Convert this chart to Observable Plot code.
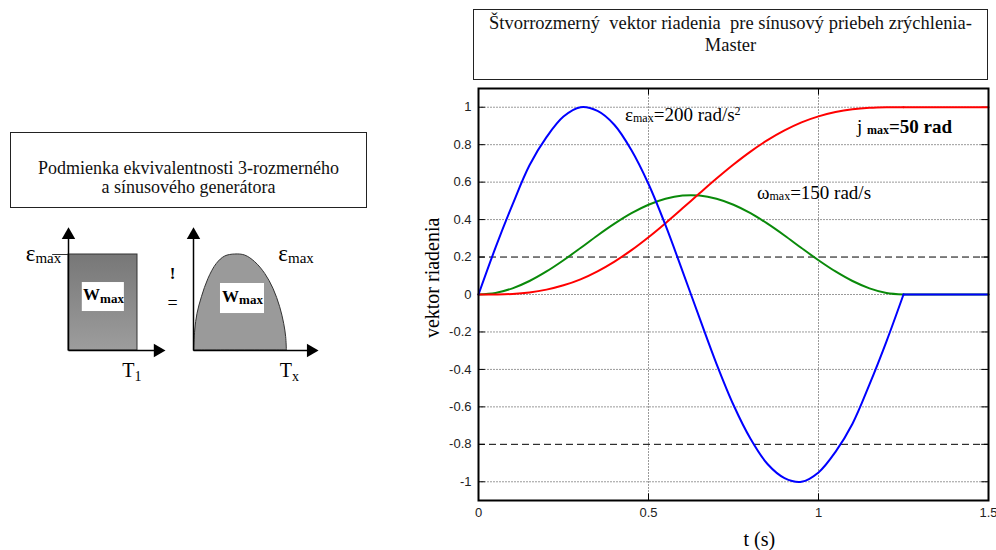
<!DOCTYPE html>
<html><head><meta charset="utf-8">
<script src="https://cdn.jsdelivr.net/npm/d3@7"></script>
<script src="https://cdn.jsdelivr.net/npm/@observablehq/plot@0.6"></script>
<style>
body{margin:0;background:#fff;}
#wrap{position:relative;width:996px;height:550px;overflow:hidden;background:#fff;}
.box{position:absolute;border:1px solid #222;box-sizing:border-box;font-family:"Liberation Serif","Times New Roman",serif;color:#111;text-align:center;background:#fff;white-space:nowrap;}
.abs{position:absolute;}
</style></head><body><div id="wrap">
<div class="box" style="left:10px;top:132px;width:357px;height:76px;font-size:18px;line-height:19px;padding-top:26px;">Podmienka ekvivalentnosti 3-rozmerného<br>a sínusového generátora</div>
<div class="box" style="left:473px;top:9px;width:515px;height:71px;font-size:18.5px;line-height:21.5px;padding-top:3px;">Štvorrozmerný&nbsp; vektor riadenia&nbsp; pre sínusový priebeh zrýchlenia-<br>Master</div>
<div class="abs" id="chart" style="left:420px;top:85px;"></div>
<div class="abs" id="diagL" style="left:0px;top:215px;"></div>
<div class="abs" id="diagR" style="left:170px;top:215px;"></div>
</div>
<script>
// ---- main chart data ----
const tValues = [0,0.05,0.1,0.15,0.2,0.25,0.3,0.35,0.4,0.45,0.5,0.55,0.6,0.65,0.7,0.75,0.8,0.85,0.9,0.95,1.0,1.05,1.1,1.15,1.2,1.25,1.3,1.35,1.4,1.45,1.5];
const accel = [0,0.25,0.48,0.69,0.84,0.95,1.0,0.98,0.905,0.77,0.59,0.37,0.125,-0.125,-0.37,-0.59,-0.77,-0.905,-0.98,-1.0,-0.95,-0.84,-0.69,-0.48,-0.25,0,0,0,0,0,0];
const velocity = [0,0.008,0.033,0.072,0.123,0.183,0.248,0.315,0.378,0.434,0.479,0.511,0.528,0.528,0.511,0.479,0.434,0.378,0.315,0.248,0.183,0.123,0.072,0.033,0.008,0,0,0,0,0,0];
const position = [0,0.0004,0.003,0.011,0.026,0.049,0.081,0.124,0.176,0.237,0.306,0.381,0.46,0.54,0.619,0.694,0.763,0.824,0.876,0.919,0.951,0.974,0.989,0.997,1.0,1.0,1,1,1,1,1];
const moveEnd = 25; // index of t = 1.25 s, where the motion ends
const xTicks = [0,0.5,1,1.5];
const yTicks = [-1,-0.8,-0.6,-0.4,-0.2,0,0.2,0.4,0.6,0.8,1];
const gridY = [-1,-0.6,-0.4,-0.2,0,0.4,0.6,0.8,1];
const dashedY = [-0.8,0.2];
const gridX = [0.5,1];
const noteKeys = ["#eps", "#omega", "#jerk", "#ylab", "#xlab"];
const noteT = [0.431, 0.819, 1.113, -0.129, 0.826];
const noteV = [0.948, 0.532, 0.884, 0.089, -1.32];

// ---- diagram data (schematic units: T1 = 1, eps_max = 1) ----
const archX = [0.01,0.025,0.058,0.122,0.217,0.338,0.459,0.604,0.749,0.894,1.039,1.159,1.256,1.314,1.343,1.353];
const archY = [0,0.208,0.382,0.555,0.746,0.902,0.979,1.0,0.989,0.92,0.798,0.642,0.451,0.278,0.139,0];

const serif = "Liberation Serif";
const sans = "Liberation Sans, Arial, Helvetica, sans-serif";

// parts: [text, shift (em, + = down), size (px), bold]
function rich(svg, key, parts) {
  svg.querySelectorAll("text").forEach(el => {
    if (el.textContent !== key) return;
    el.textContent = "";
    el.setAttribute("font-family", serif);
    let cur = 0;
    for (const [s, shift, size, bold] of parts) {
      const off = (shift || 0) * size;
      const ts = document.createElementNS("http://www.w3.org/2000/svg", "tspan");
      ts.textContent = s;
      if (off - cur !== 0) ts.setAttribute("dy", off - cur);
      cur = off;
      ts.setAttribute("font-size", size);
      ts.setAttribute("font-family", serif);
      if (bold) ts.setAttribute("font-weight", "bold");
      el.appendChild(ts);
    }
  });
}

function curveMarks(values, color) {
  const tA = tValues.slice(0, moveEnd + 1), vA = values.slice(0, moveEnd + 1);
  const tB = tValues.slice(moveEnd), vB = values.slice(moveEnd);
  return [
    Plot.line(tA, {x: tA, y: vA, stroke: color, strokeWidth: 2, curve: "catmull-rom"}),
    Plot.line(tB, {x: tB, y: vB, stroke: color, strokeWidth: 2})
  ];
}

const chart = Plot.plot({
  width: 576, height: 465,
  marginLeft: 58, marginRight: 8, marginTop: 3, marginBottom: 50,
  x: {domain: [0, 1.5], ticks: xTicks, tickSize: 0, tickPadding: 7, tickFormat: d => String(d), label: null},
  y: {domain: [-1.1, 1.1], ticks: yTicks, tickSize: 0, tickPadding: 7, tickFormat: d => String(d), label: null},
  style: {fontFamily: sans, fontSize: "13px", color: "#222", background: "transparent", overflow: "visible"},
  marks: [
    Plot.ruleY(gridY, {stroke: "#9a9a9a", strokeWidth: 1, strokeDasharray: "2,1"}),
    Plot.ruleX(gridX, {stroke: "#9a9a9a", strokeWidth: 1, strokeDasharray: "2,1"}),
    Plot.ruleY(dashedY, {stroke: "#000", strokeWidth: 1, strokeDasharray: "7,4"}),
    Plot.ruleX(gridX, {y1: -1.1, y2: -1.065, stroke: "#000"}),
    Plot.ruleX(gridX, {y1: 1.1, y2: 1.065, stroke: "#000"}),
    Plot.ruleY(yTicks, {x1: 0, x2: 0.02, stroke: "#000"}),
    Plot.ruleY(yTicks, {x1: 1.48, x2: 1.5, stroke: "#000"}),
    ...curveMarks(velocity, "#0a8a0a"),
    ...curveMarks(position, "#ff0000"),
    ...curveMarks(accel, "#0000ff"),
    Plot.frame({stroke: "#000", strokeWidth: 2}),
    Plot.text(noteKeys.slice(0, 3), {x: noteT.slice(0, 3), y: noteV.slice(0, 3), text: d => d, textAnchor: "start", fill: "#000"}),
    Plot.text(noteKeys.slice(3, 4), {x: noteT.slice(3, 4), y: noteV.slice(3, 4), text: d => d, rotate: -90, fill: "#000"}),
    Plot.text(noteKeys.slice(4), {x: noteT.slice(4), y: noteV.slice(4), text: d => d, fill: "#000"})
  ]
});
rich(chart, "#eps", [["ε", 0, 19], ["max", 0.1, 12], ["=200 rad/s", 0, 19], ["2", -0.5, 12]]);
rich(chart, "#omega", [["ω", 0, 19], ["max", 0.1, 12], ["=150 rad/s", 0, 19]]);
rich(chart, "#jerk", [["j ", 0, 19], ["max", 0.1, 12, true], ["=50 rad", 0, 19, true]]);
rich(chart, "#ylab", [["vektor riadenia", 0, 20]]);
rich(chart, "#xlab", [["t (s)", 0, 20]]);
document.getElementById("chart").appendChild(chart);

// ---- left schematic: rectangular pulse ----
const diagL = Plot.plot({
  width: 170, height: 175, margin: 0,
  x: {domain: [0, 1], range: [68, 137], axis: null},
  y: {domain: [0, 1], range: [135, 39], axis: null},
  style: {fontFamily: serif, background: "transparent", overflow: "visible"},
  marks: [
    Plot.rect([0], {x1: 0, x2: 1, y1: 0, y2: 1, fill: "url(#gradL)", stroke: "#333", strokeWidth: 1}),
    Plot.ruleY([1], {x1: -0.23, x2: 0, stroke: "#333"}),
    Plot.link([0, 1], {x1: [0, 0], y1: [0, 0], x2: [0, 1.3], y2: [1.21, 0], stroke: "#000", strokeWidth: 1.5}),
    Plot.dot([0, 1], {x: [0, 1.293], y: [1.203, 0], rotate: [0, 90], symbol: "triangle", r: 5, fill: "#000", stroke: "none"}),
    Plot.rect([0], {x1: 0.2, x2: 0.81, y1: 0.406, y2: 0.708, fill: "#fff"}),
    Plot.text(["#W"], {x: [0.507], y: [0.557], text: d => d, fill: "#000"}),
    Plot.text(["#E"], {x: [-0.62], y: [0.97], text: d => d, textAnchor: "start", fill: "#000"}),
    Plot.text(["#T"], {x: [0.78], y: [-0.24], text: d => d, textAnchor: "start", fill: "#000"})
  ]
});
d3.select(diagL).insert("defs", ":first-child").html('<linearGradient id="gradL" x1="0" y1="0" x2="0" y2="1"><stop offset="0" stop-color="#777"/><stop offset="1" stop-color="#9d9d9d"/></linearGradient>');
rich(diagL, "#W", [["W", 0, 17, true], ["max", 0.2, 13, true]]);
rich(diagL, "#E", [["ε", 0, 23], ["max", 0.15, 15]]);
rich(diagL, "#T", [["T", 0, 20], ["1", 0.3, 14]]);
document.getElementById("diagL").appendChild(diagL);

// ---- right schematic: sinusoidal pulse ----
const diagR = Plot.plot({
  width: 170, height: 175, margin: 0,
  x: {domain: [0, 1], range: [23, 92], axis: null},
  y: {domain: [0, 1], range: [135, 39], axis: null},
  style: {fontFamily: serif, background: "transparent", overflow: "visible"},
  marks: [
    Plot.areaY(archX, {x: archX, y1: 0, y2: archY, fill: "#9a9a9a", stroke: "#333", strokeWidth: 1, curve: "catmull-rom"}),
    Plot.link([0, 1], {x1: [0, 0], y1: [0, 0], x2: [0, 1.7], y2: [1.21, 0], stroke: "#000", strokeWidth: 1.5}),
    Plot.dot([0, 1], {x: [0, 1.70], y: [1.203, 0], rotate: [0, 90], symbol: "triangle", r: 5, fill: "#000", stroke: "none"}),
    Plot.rect([0], {x1: 0.391, x2: 1.029, y1: 0.385, y2: 0.698, fill: "#fff"}),
    Plot.text(["#W"], {x: [0.71], y: [0.54], text: d => d, fill: "#000"}),
    Plot.text(["#E"], {x: [1.23], y: [0.97], text: d => d, textAnchor: "start", fill: "#000"}),
    Plot.text(["#T"], {x: [1.25], y: [-0.24], text: d => d, textAnchor: "start", fill: "#000"}),
    Plot.text(["#excl"], {x: [-0.304], y: [0.78], text: d => d, fill: "#000"}),
    Plot.text(["#eq"], {x: [-0.304], y: [0.47], text: d => d, fill: "#000"})
  ]
});
rich(diagR, "#W", [["W", 0, 17, true], ["max", 0.2, 13, true]]);
rich(diagR, "#E", [["ε", 0, 23], ["max", 0.15, 15]]);
rich(diagR, "#T", [["T", 0, 20], ["x", 0.3, 14]]);
rich(diagR, "#excl", [["!", 0, 17, true]]);
rich(diagR, "#eq", [["=", 0, 18]]);
document.getElementById("diagR").appendChild(diagR);
</script>
</body></html>
